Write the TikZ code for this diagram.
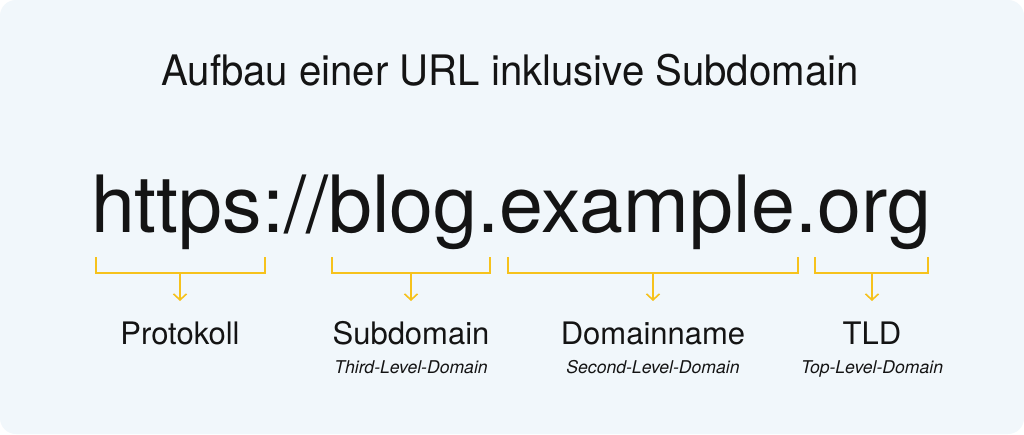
\documentclass[tikz,border=0pt]{standalone}
\usepackage{fontspec}
\setmainfont{TeX Gyre Heros}
\usetikzlibrary{arrows.meta}
\definecolor{hintergrund}{HTML}{F1F7FB}
\definecolor{gelb}{HTML}{F6C21C}
\definecolor{schrift}{HTML}{141414}

\begin{document}
\begin{tikzpicture}[x=1pt,y=-1pt]
    \tikzset{klammer/.style = {draw=gelb,line width=1.6pt}}
    \tikzset{pfeil/.style = {draw=gelb,line width=1.6pt,-{Straight Barb[length=6pt,width=13pt]}}}
    \tikzset{teil/.style = {anchor=base,text=schrift,font=\fontsize{31}{32}\selectfont}}
    \tikzset{stufe/.style = {anchor=base,text=schrift,font=\itshape\fontsize{17.6}{18}\selectfont}}

    \useasboundingbox (0,0) rectangle (1024,434);
    \fill[white] (0,0) rectangle (1024,434);
    \fill[hintergrund,rounded corners=16pt] (0,0) rectangle (1024,434);

    \node[anchor=base,text=schrift,font=\fontsize{42}{44}\selectfont] (titel) at (510,85) {\scalebox{0.956}[1]{Aufbau einer URL inklusive Subdomain}};
    \node[anchor=base,text=schrift,font=\fontsize{79}{80}\selectfont] (url) at (511,232) {https://blog.example.org};

    % Klammern unter der URL
    \draw[klammer] (96,257) |- (265,273) -- (265,257);
    \draw[klammer] (332,257) |- (490,273) -- (490,257);
    \draw[klammer] (508,257) |- (798,273) -- (798,257);
    \draw[klammer] (815,257) |- (928,273) -- (928,257);

    \coordinate (protokollOben) at (180,273);
    \coordinate (protokollUnten) at (180,301);
    \coordinate (subOben) at (411,273);
    \coordinate (subUnten) at (411,301);
    \coordinate (domainOben) at (653,273);
    \coordinate (domainUnten) at (653,301);
    \coordinate (tldOben) at (872,273);
    \coordinate (tldUnten) at (872,301);

    \draw[pfeil] (protokollOben) -- (protokollUnten);
    \draw[pfeil] (subOben) -- (subUnten);
    \draw[pfeil] (domainOben) -- (domainUnten);
    \draw[pfeil] (tldOben) -- (tldUnten);

    \node[teil] (protokoll) at (180,344) {Protokoll};
    \node[teil] (subdomain) at (411,344) {Subdomain};
    \node[teil] (domainname) at (653,344) {Domainname};
    \node[teil] (tld) at (872,344) {TLD};

    \node[stufe] (third) at (411,373) {Third-Level-Domain};
    \node[stufe] (second) at (653,373) {Second-Level-Domain};
    \node[stufe] (top) at (872,373) {Top-Level-Domain};
\end{tikzpicture}
\end{document}
